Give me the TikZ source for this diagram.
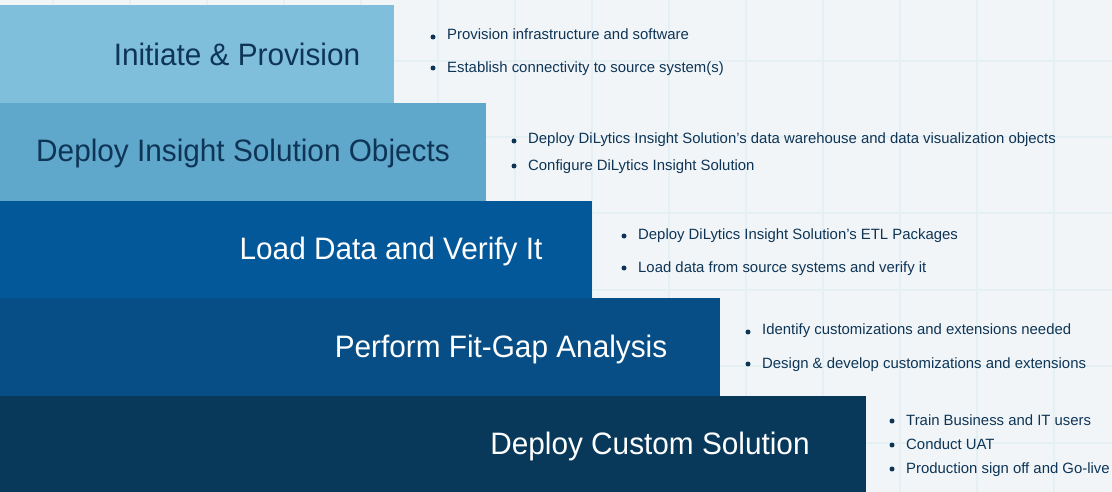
\documentclass[tikz,border=0pt]{standalone}
\usepackage{fontspec}
\setmainfont{Liberation Sans}
\newfontfamily\titlefont[FakeStretch=0.96]{Liberation Sans}
\definecolor{bg}{HTML}{F1F5F8}
\definecolor{gridc}{HTML}{E5F0F4}
\definecolor{cA}{HTML}{7FBFDC}
\definecolor{cB}{HTML}{5FA7CB}
\definecolor{cC}{HTML}{03589A}
\definecolor{cD}{HTML}{074E86}
\definecolor{cE}{HTML}{08395B}
\definecolor{navy}{HTML}{0E3556}
\tikzset{
  title/.style={font=\titlefont\fontsize{31}{36}\selectfont,anchor=base,inner sep=0pt},
  item/.style={font=\fontsize{14.9}{17}\selectfont,text=navy,anchor=west,inner sep=0pt,text height=10.5pt,text depth=3.5pt},
  dot/.style={circle,fill=navy,inner sep=0pt,minimum size=5pt}
}
\begin{document}
\begin{tikzpicture}[x=1pt,y=-1pt]
\fill[bg] (0,0) rectangle (1112,492);
\useasboundingbox (0,0) rectangle (1112,492);
\foreach \gx in {53,130,207,284,361,438,515,592,669,746,823,900,977,1054}
  \draw[gridc,line width=1.3pt] (\gx,0) -- (\gx,492);
\foreach \gy in {61,137,213,290,366,443}
  \draw[gridc,line width=1.3pt] (0,\gy) -- (1112,\gy);
% bands
\fill[cA] (0,5) rectangle (394,103);
\fill[cB] (0,103) rectangle (486,201);
\fill[cC] (0,201) rectangle (592,298);
\fill[cD] (0,298) rectangle (720,396);
\fill[cE] (0,396) rectangle (866,492);
\node[title,text=navy] (t1) at (237,66) {Initiate \& Provision};
\node[title,text=navy] (t2) at (243,162) {Deploy Insight Solution Objects};
\node[title,text=white] (t3) at (391,259) {Load Data and Verify It};
\node[title,text=white] (t4) at (501,357) {Perform Fit-Gap Analysis};
\node[title,text=white] (t5) at (650,454) {Deploy Custom Solution};
% bullets
\node[dot] (d11) at (433,37) {}; \node[item] (i11) at (447,36) {Provision infrastructure and software};
\node[dot] (d12) at (433,68) {}; \node[item] (i12) at (447,69) {Establish connectivity to source system(s)};
\node[dot] (d21) at (514,141) {}; \node[item] (i21) at (528,140) {Deploy DiLytics Insight Solution’s data warehouse and data visualization objects};
\node[dot] (d22) at (514,166) {}; \node[item] (i22) at (528,167) {Configure DiLytics Insight Solution};
\node[dot] (d31) at (624,236) {}; \node[item] (i31) at (638,236) {Deploy DiLytics Insight Solution’s ETL Packages};
\node[dot] (d32) at (624,268) {}; \node[item] (i32) at (638,269) {Load data from source systems and verify it};
\node[dot] (d41) at (748,332) {}; \node[item] (i41) at (762,331) {Identify customizations and extensions needed};
\node[dot] (d42) at (748,364) {}; \node[item] (i42) at (762,365) {Design \& develop customizations and extensions};
\node[dot] (d51) at (892,421) {}; \node[item] (i51) at (906,422) {Train Business and IT users};
\node[dot] (d52) at (892,445) {}; \node[item] (i52) at (906,446) {Conduct UAT};
\node[dot] (d53) at (892,469) {}; \node[item] (i53) at (906,470) {Production sign off and Go-live};
\end{tikzpicture}
\end{document}
